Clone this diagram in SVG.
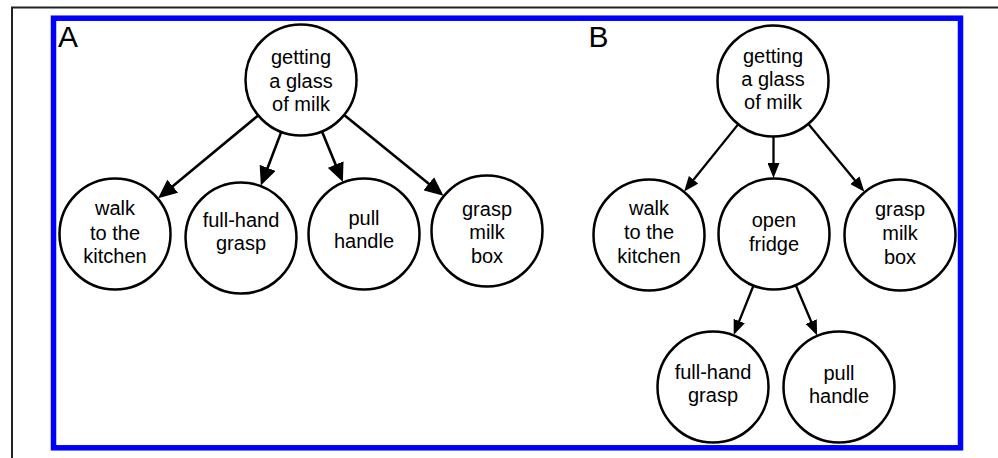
<svg xmlns="http://www.w3.org/2000/svg" width="998" height="458" viewBox="0 0 998 458">
<style>
.node circle{fill:#fff;stroke:#000;stroke-width:2.5}
.node text,.lbl{font-family:"Liberation Sans",Arial,sans-serif;fill:#000}
.node text{font-size:20px;text-anchor:middle}
.lbl{font-size:30px}
.edgeA line{stroke:#000;stroke-width:2.6;marker-end:url(#headA)}
.edgeB line{stroke:#000;stroke-width:2.3;marker-end:url(#headB)}
</style>
<defs>
<marker id="headA" markerUnits="userSpaceOnUse" viewBox="0 0 19 17" markerWidth="19" markerHeight="17" refX="2" refY="8.5" orient="auto"><path d="M0,0 L19,8.5 L0,17 z" fill="#000"/></marker>
<marker id="headB" markerUnits="userSpaceOnUse" viewBox="0 0 15 12" markerWidth="15" markerHeight="12" refX="2" refY="6" orient="auto"><path d="M0,0 L15,6 L0,12 z" fill="#000"/></marker>
</defs>
<rect width="998" height="458" fill="#fff"/>
<path d="M12,458 V7.5 H998" fill="none" stroke="#222" stroke-width="2"/>
<rect x="53.5" y="18.2" width="907" height="429.6" fill="none" stroke="#0000ff" stroke-width="5.5"/>
<text class="lbl" x="58" y="46.5">A</text>
<text class="lbl" x="588.5" y="46.5">B</text>
<g id="connectors">
<g class="edgeA">
<line x1="257.9" y1="115.7" x2="171.2" y2="187.5"/>
<line x1="281.1" y1="132.4" x2="266.9" y2="169.7"/>
<line x1="322.2" y1="131.9" x2="336.4" y2="166.4"/>
<line x1="344.5" y1="115.3" x2="430.3" y2="185.0"/>
</g>
<g class="edgeB">
<line x1="737.9" y1="124.6" x2="692.3" y2="181.3"/>
<line x1="773.5" y1="137" x2="773.5" y2="165"/>
<line x1="808.6" y1="124.2" x2="856.1" y2="181.8"/>
<line x1="753.3" y1="286" x2="738.5" y2="322.9"/>
<line x1="795.9" y1="285.5" x2="812" y2="323.5"/>
</g>
</g>
<g id="a-root" class="node"><circle cx="301" cy="80" r="55.5"/><text x="301" y="64">getting</text><text x="301" y="87.5">a glass</text><text x="301" y="111">of milk</text></g>
<g id="a-walk" class="node"><circle cx="115" cy="234" r="55.5"/><text x="115" y="215">walk</text><text x="115" y="240">to the</text><text x="115" y="263">kitchen</text></g>
<g id="a-fullhand" class="node"><circle cx="241" cy="238" r="55.5"/><text x="241" y="227">full-hand</text><text x="241" y="250">grasp</text></g>
<g id="a-pull" class="node"><circle cx="364" cy="234" r="55.5"/><text x="364" y="225">pull</text><text x="364" y="248.3">handle</text></g>
<g id="a-grasp" class="node"><circle cx="487" cy="231" r="55.5"/><text x="487" y="216">grasp</text><text x="487" y="239.3">milk</text><text x="487" y="263.3">box</text></g>
<g id="b-root" class="node"><circle cx="773" cy="81" r="55.5"/><text x="773" y="62.7">getting</text><text x="773" y="86">a glass</text><text x="773" y="109.3">of milk</text></g>
<g id="b-walk" class="node"><circle cx="649" cy="235" r="55.5"/><text x="649" y="215">walk</text><text x="649" y="239.3">to the</text><text x="649" y="263.3">kitchen</text></g>
<g id="b-fridge" class="node"><circle cx="774" cy="234" r="55.5"/><text x="774" y="226.7">open</text><text x="774" y="251">fridge</text></g>
<g id="b-grasp" class="node"><circle cx="900" cy="235" r="55.5"/><text x="900" y="215.7">grasp</text><text x="900" y="240">milk</text><text x="900" y="264">box</text></g>
<g id="b-fullhand" class="node"><circle cx="713" cy="387" r="55.5"/><text x="713" y="379">full-hand</text><text x="713" y="401.7">grasp</text></g>
<g id="b-pull" class="node"><circle cx="839" cy="387" r="55.5"/><text x="839" y="380">pull</text><text x="839" y="402.7">handle</text></g>
</svg>
